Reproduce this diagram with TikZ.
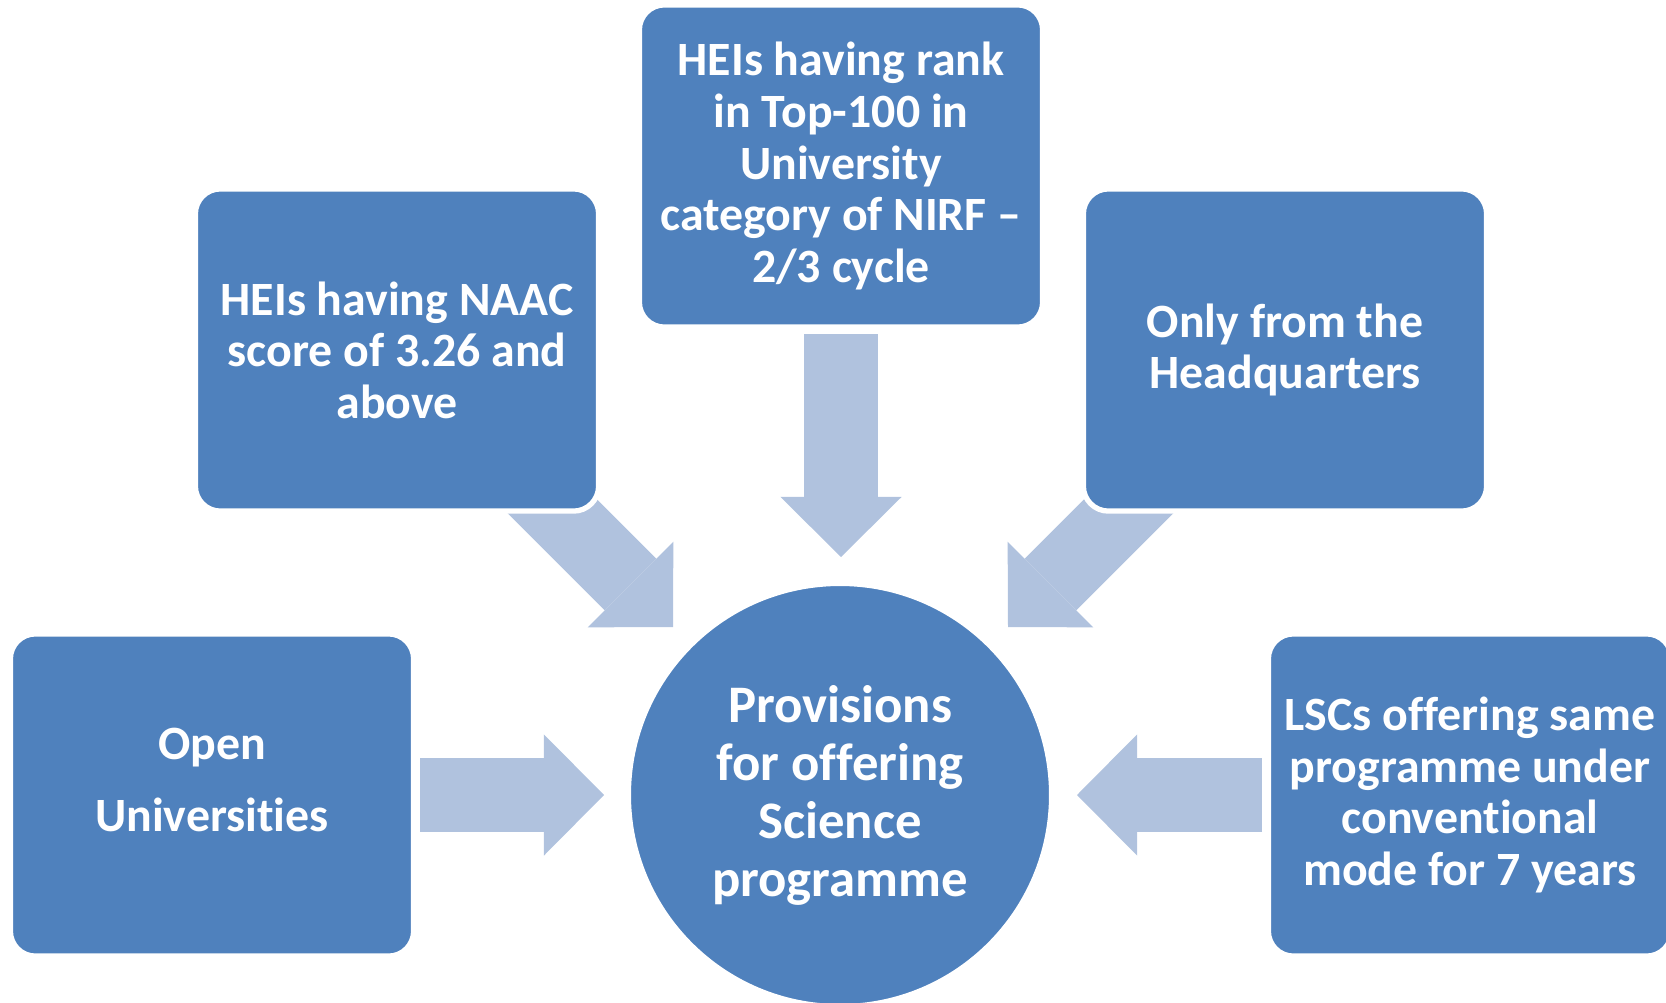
\documentclass[tikz,border=0pt]{standalone}
\usepackage{fontspec}
\setmainfont{Carlito}[Ligatures=NoCommon]
\usepackage{tikz}
\usetikzlibrary{arrows.meta}
\usetikzlibrary{positioning}
\definecolor{bleu}{HTML}{4F81BD}
\definecolor{bleuclair}{HTML}{B0C2DE}

\begin{document}
\begin{tikzpicture}[x=0.01cm, y=-0.01cm,
				box/.style = {rectangle, rounded corners=0.25cm,
					fill=bleu, draw=white, line width=1.5pt,
					minimum width=4.03cm, minimum height=3.22cm,
					align=center, text=white,
					font=\bfseries\fontsize{13.6}{14.65}\selectfont},
				centre/.style = {circle, fill=bleu, draw=white, line width=1.5pt,
					minimum size=4.23cm, align=center, text=white,
					font=\bfseries\fontsize{15}{16.5}\selectfont},
				fleche/.style = {draw=bleuclair, line width=0.73cm,
					-{Triangle[length=0.6cm, width=1.21cm, line width=0pt]}}]
				
				\useasboundingbox (0,0) rectangle (1666,1003);
				
				% Arrow ends
				\coordinate (nirfT) at (841,334);
				\coordinate (nirfH) at (841,557);
				\coordinate (naacT) at (515,469);
				\coordinate (naacH) at (673,627);
				\coordinate (hqT) at (1166,469);
				\coordinate (hqH) at (1008,627);
				\coordinate (openT) at (420,795);
				\coordinate (openH) at (604,795);
				\coordinate (lscT) at (1262,795);
				\coordinate (lscH) at (1077,795);
				
				% Arrows
				\draw[fleche] (nirfT) -- (nirfH);
				\draw[fleche] (naacT) -- (naacH);
				\draw[fleche] (hqT) -- (hqH);
				\draw[fleche] (openT) -- (openH);
				\draw[fleche] (lscT) -- (lscH);
				
				% Boxes
				\node[box] (naac) at (397,350) {HEIs having NAAC\\score of 3.26 and\\above};
				\node[box] (nirf) at (841,166) {HEIs having rank\\in Top-100 in\\University\\category of NIRF --\\2/3 cycle};
				\node[box] (hq) at (1285,350) {Only from the\\Headquarters};
				\node[box] (open) at (212,795) {Open\\[6pt]Universities\\[-6pt]};
				\node[box] (lsc) at (1470,795) {LSCs offering same\\programme under\\conventional\\mode for 7 years};
				
				% Centre
				\node[centre] (prov) at (840,795) {Provisions\\for offering\\Science\\programme};
				
			\end{tikzpicture}
\end{document}
